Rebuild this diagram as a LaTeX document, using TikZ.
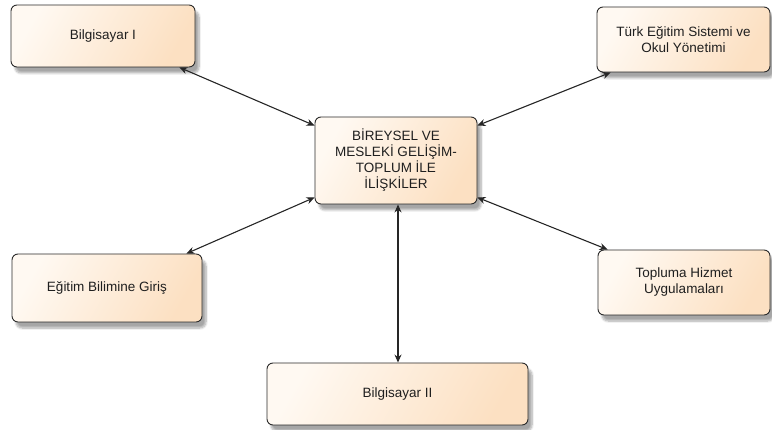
\documentclass[tikz,border=0pt]{standalone}
\usepackage{fontspec}
\setmainfont{Liberation Sans}
\usetikzlibrary{arrows.meta,shadows.blur}
\definecolor{fillA}{HTML}{FFF9F2}
\definecolor{fillB}{HTML}{FCE0C2}
\definecolor{edgecol}{HTML}{2B2B2B}
\tikzset{
  box/.style={draw=edgecol, line width=0.9pt, rounded corners=6pt, align=center,
    inner sep=2pt, font=\fontsize{13.5}{16}\selectfont, text=black!88,
    shading=axis, left color=fillA, right color=fillB, shading angle=60,
    blur shadow={shadow xshift=4pt, shadow yshift=-6pt, shadow blur steps=8, shadow opacity=35}},
  link/.style={draw=black!85, line width=1.1pt, {Stealth[length=8pt,width=7pt]}-{Stealth[length=8pt,width=7pt]}}
}
\begin{document}
\begin{tikzpicture}[x=1pt,y=-1pt]
\useasboundingbox (0,0) rectangle (772,430);
\node[box, minimum width=184pt, minimum height=62pt] (b1) at (103,36) {Bilgisayar I};
\node[box, minimum width=173pt, minimum height=65pt] (tr) at (683.5,39.5) {Türk Eğitim Sistemi ve\\Okul Yönetimi};
\node[box, minimum width=162pt, minimum height=87pt] (c) at (396,160.5) {BİREYSEL VE\\MESLEKİ GELİŞİM-\\TOPLUM İLE\\İLİŞKİLER};
\node[box, minimum width=190pt, minimum height=68pt] (eg) at (107,288) {Eğitim Bilimine Giriş};
\node[box, minimum width=172pt, minimum height=65pt] (th) at (684,282.5) {Topluma Hizmet\\Uygulamaları};
\node[box, minimum width=261pt, minimum height=62pt] (b2) at (397.5,394) {Bilgisayar II};
\draw[link] ([xshift=-16pt]b1.south east) -- ([yshift=-9pt]c.north west);
\draw[link] ([yshift=-9pt]c.north east) -- ([xshift=14pt]tr.south west);
\draw[link] ([xshift=-16pt]eg.north east) -- ([yshift=7pt]c.south west);
\draw[link] ([yshift=7pt]c.south east) -- ([xshift=10pt]th.north west);
\draw[link] ([xshift=2pt]c.south) -- ([xshift=0.5pt]b2.north);
\end{tikzpicture}
\end{document}
